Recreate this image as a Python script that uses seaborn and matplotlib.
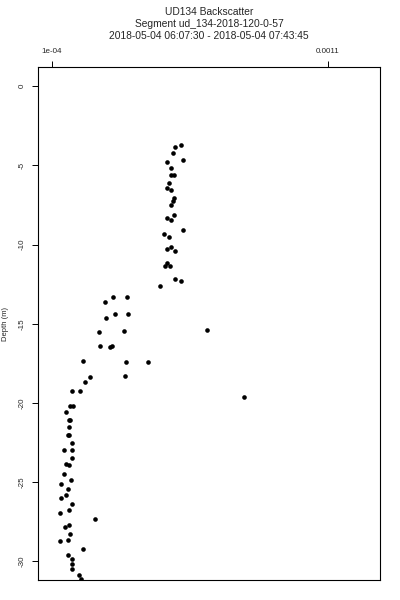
import matplotlib
matplotlib.use("Agg")
import matplotlib.pyplot as plt
import seaborn as sns
import pandas as pd

title_lines = ["UD134 Backscatter",
               "Segment ud_134-2018-120-0-57",
               "2018-05-04 06:07:30 - 2018-05-04 07:43:45"]
y_label = "Depth (m)"
x_ticks = [1e-4, 1.1e-3]
x_tick_labels = ["1e-04", "0.0011"]
y_ticks = [0, -5, -10, -15, -20, -25, -30]

# backscatter in units of 1e-4
backscatter_e4 = [5.67, 5.46, 5.39, 5.75, 5.17, 5.31, 5.31, 5.43, 5.26, 5.17,
                  5.31, 5.43, 5.40, 5.31, 5.42, 5.17, 5.31, 5.75, 5.05, 5.26,
                  5.32, 5.16, 5.45, 5.16, 5.11, 5.28, 5.45, 5.68, 4.93, 3.23,
                  3.71, 2.93, 3.29, 3.75, 2.98, 2.71, 3.61, 6.62, 2.76, 3.12,
                  3.18, 2.12, 3.70, 4.50, 2.39, 3.65, 2.19, 1.73, 2.01, 7.97,
                  1.65, 1.78, 1.51, 1.62, 1.66, 1.62, 1.63, 1.59, 1.75, 1.45,
                  1.75, 1.72, 1.52, 1.63, 1.45, 1.71, 1.34, 1.60, 1.53, 1.33,
                  1.75, 1.63, 1.30, 2.58, 1.63, 1.47, 1.67, 1.58, 1.29, 2.13,
                  1.58, 1.75, 1.75, 1.72, 1.99, 2.05]
depth = [-3.72, -3.85, -4.25, -4.69, -4.81, -5.19, -5.60, -5.60, -6.10, -6.45,
         -6.56, -7.09, -7.27, -7.53, -8.16, -8.35, -8.47, -9.09, -9.32, -9.51,
         -10.14, -10.28, -10.41, -11.19, -11.34, -11.34, -12.16, -12.28, -12.62, -13.31,
         -13.29, -13.65, -14.40, -14.40, -14.62, -15.54, -15.46, -15.39, -16.38, -16.47,
         -16.42, -17.37, -17.39, -17.43, -18.34, -18.32, -18.69, -19.24, -19.26, -19.64,
         -20.19, -20.17, -20.59, -21.09, -21.09, -21.53, -22.04, -22.04, -22.50, -22.98,
         -22.97, -23.49, -23.87, -23.89, -24.46, -24.84, -25.09, -25.41, -25.80, -26.01,
         -26.37, -26.73, -26.94, -27.30, -27.68, -27.82, -28.25, -28.62, -28.73, -29.19,
         -29.61, -29.86, -30.16, -30.49, -30.83, -31.10]

df = pd.DataFrame({"backscatter": [v * 1e-4 for v in backscatter_e4],
                   "depth": depth})

sns.set_style("ticks")
plt.rcParams["font.family"] = ["Liberation Sans", "DejaVu Sans"]

fig = plt.figure(figsize=(4, 6), dpi=100)
ax = fig.add_axes([0.095, 0.0333, 0.855, 0.855])

sns.scatterplot(data=df, x="backscatter", y="depth", ax=ax, color="black",
                s=11, linewidth=0, marker="o", legend=False)

ax.set_xlim(0.504e-4, 12.88e-4)
ax.set_ylim(-31.17, 1.20)
ax.xaxis.tick_top()
ax.set_xticks(x_ticks)
ax.set_xticklabels(x_tick_labels)
ax.set_yticks(y_ticks)
ax.set_yticklabels([str(t) for t in y_ticks], rotation=90, va="center")
ax.tick_params(axis="both", labelsize=5.8, length=4, width=0.7, color="black",
               direction="out", pad=5)
ax.set_xlabel("")
ax.set_ylabel(y_label, fontsize=5.5)
ax.yaxis.set_label_coords(-0.085, 0.5)
for sp in ax.spines.values():
    sp.set_visible(True)
    sp.set_linewidth(0.8)
    sp.set_color("black")

for i, line in enumerate(title_lines):
    fig.text(0.5225, 1 - (12 + 12 * i) / 600, line, ha="center", va="center",
             fontsize=7.4)

fig.savefig("out.png", dpi=100)
